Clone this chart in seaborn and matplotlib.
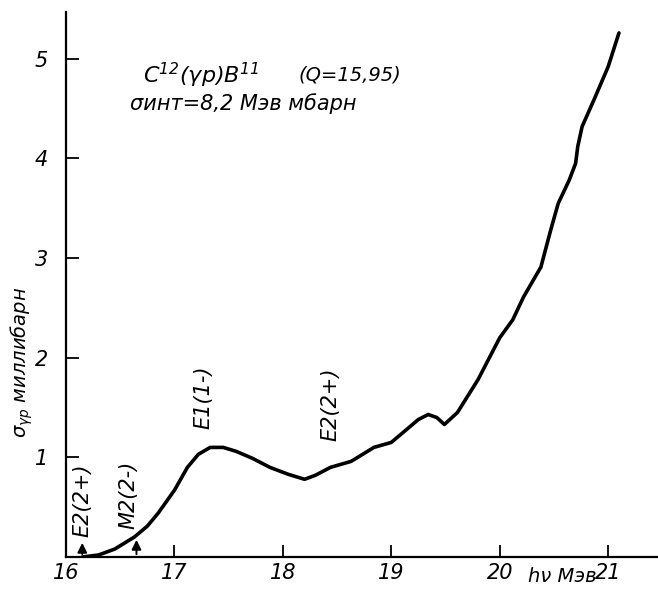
import matplotlib
matplotlib.use("Agg")
import matplotlib.pyplot as plt
import seaborn as sns
import pandas as pd

# Data
energy = [16.15, 16.3, 16.45, 16.63, 16.75, 16.85, 17.0, 17.12, 17.22, 17.33,
          17.45, 17.57, 17.72, 17.88, 18.05, 18.2, 18.3, 18.44, 18.63, 18.75,
          18.84, 19.0, 19.12, 19.25, 19.34, 19.42, 19.49, 19.61, 19.8, 20.0,
          20.12, 20.22, 20.38, 20.47, 20.54, 20.64, 20.7, 20.72, 20.76, 20.87,
          21.0, 21.1]
sigma = [0.0, 0.02, 0.08, 0.2, 0.31, 0.44, 0.67, 0.9, 1.03, 1.1,
         1.1, 1.06, 0.99, 0.9, 0.83, 0.78, 0.82, 0.9, 0.96, 1.04,
         1.1, 1.15, 1.26, 1.38, 1.43, 1.4, 1.33, 1.45, 1.78, 2.2,
         2.38, 2.61, 2.91, 3.28, 3.55, 3.78, 3.95, 4.12, 4.32, 4.59,
         4.92, 5.26]

x_ticks = [16, 17, 18, 19, 20, 21]
x_tick_labels = ["16", "17", "18", "19", "20", "21"]
y_ticks = [1, 2, 3, 4, 5]
y_tick_labels = ["1", "2", "3", "4", "5"]

level_labels = ["E2(2+)", "M2(2-)", "E1(1-)", "E2(2+)"]
level_x = [16.15, 16.58, 17.27, 18.44]
level_y = [0.57, 0.62, 1.6, 1.53]
arrow_x = [16.15, 16.65]
arrow_top = [0.17, 0.2]

sns.set_style("ticks")
plt.rcParams['font.family'] = ['DejaVu Sans']
plt.rcParams['font.style'] = 'italic'
plt.rcParams['mathtext.fontset'] = 'dejavusans'
plt.rcParams['mathtext.default'] = 'it'
for k in ['text.color', 'axes.labelcolor', 'xtick.color', 'ytick.color',
          'axes.edgecolor']:
    plt.rcParams[k] = 'black'

fig = plt.figure(figsize=(6.58, 5.89), dpi=100)
ax = fig.add_axes([66/658, 1 - 557/589, 1 - 66/658, (557 - 12)/589])

df = pd.DataFrame({"E": energy, "s": sigma})
sns.lineplot(data=df, x="E", y="s", ax=ax, color="black", linewidth=2.6,
             sort=False, estimator=None)

ax.set_xlim(16, 21.46)
ax.set_ylim(0, 5.47)
ax.set_xticks(x_ticks)
ax.set_xticklabels(x_tick_labels, fontsize=15, style='italic')
ax.set_yticks(y_ticks)
ax.set_yticklabels(y_tick_labels, fontsize=15, style='italic')
ax.tick_params(direction='in', length=9, width=1.3, colors='black')
ax.tick_params(axis='x', pad=4)
ax.tick_params(axis='y', pad=13)
for s in ["top", "right"]:
    ax.spines[s].set_visible(False)
for s in ["left", "bottom"]:
    ax.spines[s].set_linewidth(1.6)
ax.set_xlabel("")
ax.set_ylabel("")

for lab, lx, ly in zip(level_labels, level_x, level_y):
    ax.text(lx, ly, lab, rotation=90, ha='center', va='center',
            fontsize=15, style='italic')
for axx, top in zip(arrow_x, arrow_top):
    ax.annotate("", xy=(axx, top), xytext=(axx, 0),
                arrowprops=dict(arrowstyle='-|>', color='black', lw=1.4,
                                mutation_scale=14))

fig.text(143/658, 1 - 75/589, r"C$^{12}$($\gamma$p)B$^{11}$", fontsize=16,
         style='italic', va='center', ha='left')
fig.text(298/658, 1 - 75/589, "(Q=15,95)", fontsize=14,
         style='italic', va='center', ha='left')
fig.text(130/658, 1 - 104/589, "σинт=8,2 Мэв мбарн", fontsize=15,
         style='italic', va='center', ha='left')
fig.text(22/658, 1 - 362/589, r"$\sigma_{\gamma p}$ миллибарн", fontsize=14,
         style='italic', va='center', ha='center', rotation=90)
fig.text(562/658, 1 - 576/589, "hν Мэв", fontsize=14,
         style='italic', va='center', ha='center')

fig.savefig("out.png", dpi=100)
